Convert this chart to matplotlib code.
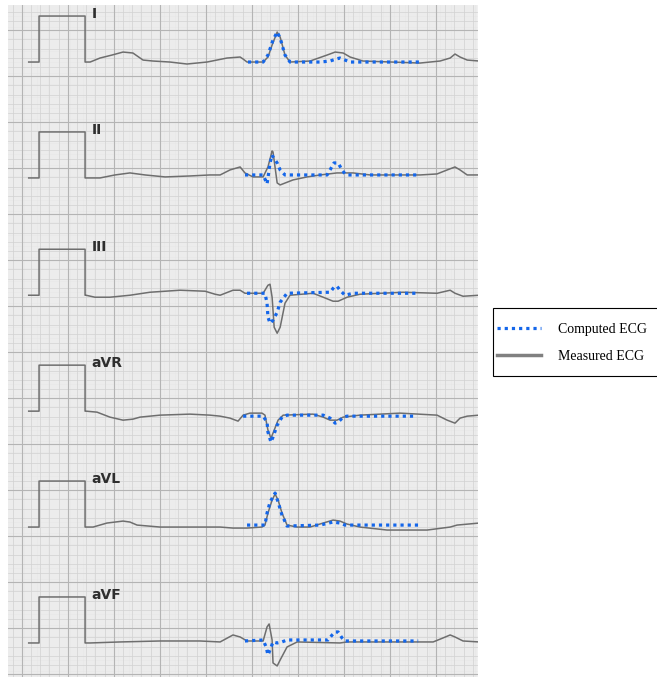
import numpy as np
import matplotlib.pyplot as plt
from matplotlib.lines import Line2D
from matplotlib.patches import Rectangle

# calibration pulse (s, mV), same on every lead
cal_t = [0.09, 0.135, 0.135, 0.335, 0.335]
cal_v = [0.0, 0.0, 1.0, 1.0, 0.0]

lead_names = ['I', 'II', 'III', 'aVR', 'aVL', 'aVF']

# measured ECG, time in s and amplitude in mV (relative to baseline)
meas_I_t = [0.343, 0.357, 0.400, 0.452, 0.500, 0.543, 0.587, 0.630, 0.704, 0.778, 0.865, 0.952,
            1.009, 1.022, 1.039, 1.109, 1.130, 1.148, 1.170, 1.183, 1.204, 1.226, 1.313, 1.387,
            1.422, 1.457, 1.487, 1.543, 1.791, 1.878, 1.922, 1.943, 1.965, 1.996, 2.048]
meas_I_v = [0.0, 0.0, 0.087, 0.152, 0.217, 0.196, 0.043, 0.022, 0.0, -0.043, 0.0, 0.087,
            0.109, 0.065, 0.0, 0.0, 0.109, 0.370, 0.652, 0.543, 0.152, 0.0, 0.022, 0.152,
            0.217, 0.196, 0.109, 0.022, -0.022, 0.022, 0.087, 0.174, 0.109, 0.043, 0.022]

meas_II_t = [0.339, 0.357, 0.400, 0.465, 0.530, 0.596, 0.683, 0.791, 0.878, 0.922, 0.965, 1.009,
             1.030, 1.065, 1.109, 1.130, 1.148, 1.152, 1.170, 1.183, 1.239, 1.300, 1.357, 1.430,
             1.500, 1.574, 1.791, 1.865, 1.909, 1.943, 1.965, 1.996, 2.048]
meas_II_v = [0.0, 0.0, 0.0, 0.065, 0.109, 0.065, 0.022, 0.043, 0.065, 0.065, 0.174, 0.239,
             0.109, 0.022, 0.022, 0.239, 0.587, 0.565, -0.109, -0.152, -0.043, 0.022, 0.065, 0.109,
             0.109, 0.065, 0.065, 0.087, 0.174, 0.239, 0.174, 0.065, 0.065]

meas_III_t = [0.339, 0.378, 0.443, 0.530, 0.617, 0.748, 0.857, 0.900, 0.922, 0.978, 1.009, 1.030,
              1.109, 1.130, 1.139, 1.148, 1.157, 1.170, 1.183, 1.204, 1.226, 1.326, 1.370, 1.413,
              1.435, 1.474, 1.530, 1.717, 1.865, 1.922, 1.943, 1.978, 2.048]
meas_III_v = [0.0, -0.043, -0.043, 0.0, 0.065, 0.109, 0.087, 0.022, 0.0, 0.109, 0.109, 0.043,
              0.043, 0.217, 0.239, -0.043, -0.696, -0.826, -0.696, -0.174, 0.0, 0.043, -0.043, -0.130,
              -0.130, -0.043, 0.022, 0.065, 0.043, 0.109, 0.043, -0.022, 0.0]

meas_aVR_t = [0.339, 0.387, 0.443, 0.500, 0.543, 0.574, 0.661, 0.791, 0.878, 0.922, 0.965, 1.000,
              1.022, 1.052, 1.104, 1.117, 1.130, 1.143, 1.152, 1.174, 1.196, 1.326, 1.370, 1.400,
              1.430, 1.457, 1.530, 1.704, 1.865, 1.909, 1.943, 1.965, 1.996, 2.048]
meas_aVR_v = [0.0, -0.022, -0.130, -0.196, -0.174, -0.130, -0.087, -0.065, -0.087, -0.109, -0.152, -0.217,
              -0.087, -0.043, -0.043, -0.087, -0.413, -0.587, -0.478, -0.196, -0.087, -0.065, -0.130, -0.196,
              -0.196, -0.130, -0.087, -0.043, -0.087, -0.196, -0.261, -0.152, -0.109, -0.087]

meas_aVL_t = [0.343, 0.370, 0.430, 0.500, 0.530, 0.561, 0.661, 0.791, 0.922, 0.978, 1.039, 1.104,
              1.117, 1.130, 1.148, 1.161, 1.174, 1.191, 1.213, 1.257, 1.313, 1.370, 1.413, 1.443,
              1.474, 1.530, 1.648, 1.822, 1.922, 1.952, 2.048]
meas_aVL_v = [0.0, 0.0, 0.087, 0.130, 0.109, 0.043, 0.0, 0.0, 0.0, -0.022, -0.022, 0.0,
              0.043, 0.304, 0.587, 0.717, 0.587, 0.304, 0.043, 0.0, 0.0, 0.087, 0.152, 0.130,
              0.065, 0.0, -0.065, -0.065, 0.0, 0.043, 0.087]

meas_aVF_t = [0.339, 0.357, 0.487, 0.661, 0.835, 0.922, 0.978, 1.009, 1.039, 1.109, 1.126, 1.135,
              1.148, 1.152, 1.170, 1.183, 1.213, 1.257, 1.443, 1.474, 1.848, 1.891, 1.922, 1.943,
              1.978, 2.048]
meas_aVF_v = [0.0, 0.0, 0.022, 0.043, 0.043, 0.022, 0.174, 0.130, 0.043, 0.043, 0.348, 0.413,
              0.065, -0.435, -0.500, -0.370, -0.087, 0.022, 0.0, 0.022, 0.022, 0.109, 0.174, 0.130,
              0.043, 0.022]

# computed ECG (one beat)
comp_I_t = [1.043, 1.109, 1.130, 1.152, 1.170, 1.183, 1.204, 1.226, 1.357, 1.400, 1.426, 1.443,
            1.465, 1.487, 1.791]
comp_I_v = [0.0, 0.0, 0.152, 0.478, 0.652, 0.522, 0.152, 0.0, 0.0, 0.022, 0.065, 0.087,
            0.043, 0.0, 0.0]

comp_II_t = [1.030, 1.109, 1.126, 1.130, 1.139, 1.148, 1.152, 1.170, 1.183, 1.204, 1.387, 1.400,
             1.417, 1.435, 1.452, 1.465, 1.478, 1.783]
comp_II_v = [0.065, 0.065, -0.130, 0.0, 0.326, 0.500, 0.457, 0.326, 0.174, 0.065, 0.065, 0.174,
             0.326, 0.326, 0.174, 0.087, 0.065, 0.065]

comp_III_t = [1.039, 1.117, 1.126, 1.130, 1.139, 1.152, 1.170, 1.183, 1.213, 1.400, 1.417, 1.430,
              1.443, 1.465, 1.500, 1.783]
comp_III_v = [0.043, 0.043, -0.174, -0.478, -0.609, -0.543, -0.370, -0.152, 0.043, 0.065, 0.174, 0.196,
              0.109, 0.0, 0.043, 0.043]

comp_aVR_t = [1.022, 1.109, 1.126, 1.130, 1.143, 1.152, 1.170, 1.191, 1.213, 1.370, 1.400, 1.422,
              1.435, 1.457, 1.474, 1.770]
comp_aVR_v = [-0.109, -0.109, -0.239, -0.457, -0.674, -0.565, -0.304, -0.130, -0.087, -0.087, -0.152, -0.261,
              -0.239, -0.130, -0.109, -0.109]

comp_aVL_t = [1.039, 1.117, 1.126, 1.139, 1.161, 1.174, 1.191, 1.213, 1.357, 1.413, 1.443, 1.465,
              1.791]
comp_aVL_v = [0.043, 0.043, 0.304, 0.543, 0.739, 0.543, 0.261, 0.022, 0.043, 0.109, 0.087, 0.043,
              0.043]

comp_aVF_t = [1.030, 1.109, 1.122, 1.130, 1.139, 1.152, 1.170, 1.191, 1.213, 1.391, 1.409, 1.422,
              1.435, 1.452, 1.465, 1.783]
comp_aVF_v = [0.043, 0.065, -0.087, -0.261, -0.152, 0.022, 0.0, 0.022, 0.065, 0.065, 0.174, 0.239,
              0.239, 0.109, 0.043, 0.043]

measured = [(meas_I_t, meas_I_v), (meas_II_t, meas_II_v), (meas_III_t, meas_III_v),
            (meas_aVR_t, meas_aVR_v), (meas_aVL_t, meas_aVL_v), (meas_aVF_t, meas_aVF_v)]
computed = [(comp_I_t, comp_I_v), (comp_II_t, comp_II_v), (comp_III_t, comp_III_v),
            (comp_aVR_t, comp_aVR_v), (comp_aVL_t, comp_aVL_v), (comp_aVF_t, comp_aVF_v)]

# layout: baseline of each strip (mV from bottom of the paper)
baselines = [13.37, 10.85, 8.30, 5.78, 3.26, 0.74]
T_MAX, V_MAX = 2.043, 14.61

BLUE = '#1466ea'
GRAY = '#6e6e6e'
W, H = 657, 677

fig = plt.figure(figsize=(W / 100, H / 100), dpi=100)
ax = fig.add_axes([8 / W, 0.0, 470 / W, 672 / H])
ax.set_facecolor('#f5f5f5')

# ECG paper grid: fine, small and big boxes
for x in np.arange(0.004, T_MAX, 0.008):
    ax.axvline(x, color='#e3e3e3', lw=0.35, zorder=0)
for y in np.arange(0.02, V_MAX, 0.04):
    ax.axhline(y, color='#e3e3e3', lw=0.35, zorder=0)
for x in np.arange(0.02, T_MAX, 0.04):
    ax.axvline(x, color='#d2d2d2', lw=0.5, zorder=0)
for y in np.arange(0.06, V_MAX, 0.2):
    ax.axhline(y, color='#d2d2d2', lw=0.5, zorder=0)
for x in np.arange(0.06, T_MAX, 0.2):
    ax.axvline(x, color='#b4b4b4', lw=0.8, zorder=0)
for y in np.arange(0.06, V_MAX, 1.0):
    ax.axhline(y, color='#b4b4b4', lw=0.8, zorder=0)

for name, base, (mt, mv), (ct, cv) in zip(lead_names, baselines, measured, computed):
    t = np.concatenate([cal_t, mt])
    v = np.concatenate([cal_v, mv]) + base
    ax.plot(t, v, color=GRAY, lw=1.1, zorder=2)
    ax.plot(ct, np.array(cv) + base, color=BLUE, lw=2.3,
            linestyle=(0, (1, 1.25)), zorder=3)
    ax.text(0.362, base + 1.05, name, fontsize=10, fontweight='heavy', color='#2e2e2e',
            family=['Liberation Sans Narrow', 'DejaVu Sans'], va='center', ha='left')

ax.set_xlim(0, T_MAX)
ax.set_ylim(0, V_MAX)
ax.set_xticks([])
ax.set_yticks([])
for s in ax.spines.values():
    s.set_visible(False)

# legend box drawn by hand so the padding can match
fig.patches.append(Rectangle((493 / W, 1 - 376 / H), 170 / W, 68 / H,
                             transform=fig.transFigure, facecolor='white',
                             edgecolor='black', lw=0.8, zorder=1))
handles = [Line2D([], [], color=BLUE, lw=2.3, linestyle=(0, (1, 1.25))),
           Line2D([], [], color='#808080', lw=2.5)]
leg = fig.legend(handles, ['Computed ECG', 'Measured ECG'], loc='upper left',
                 bbox_to_anchor=(497 / W, 1 - 323 / H), frameon=False,
                 handlelength=3.2, handletextpad=1.2, labelspacing=1.02,
                 borderpad=0, borderaxespad=0,
                 prop={'family': 'Liberation Serif', 'size': 10})
leg.set_zorder(2)

fig.savefig('out.png', dpi=100)
